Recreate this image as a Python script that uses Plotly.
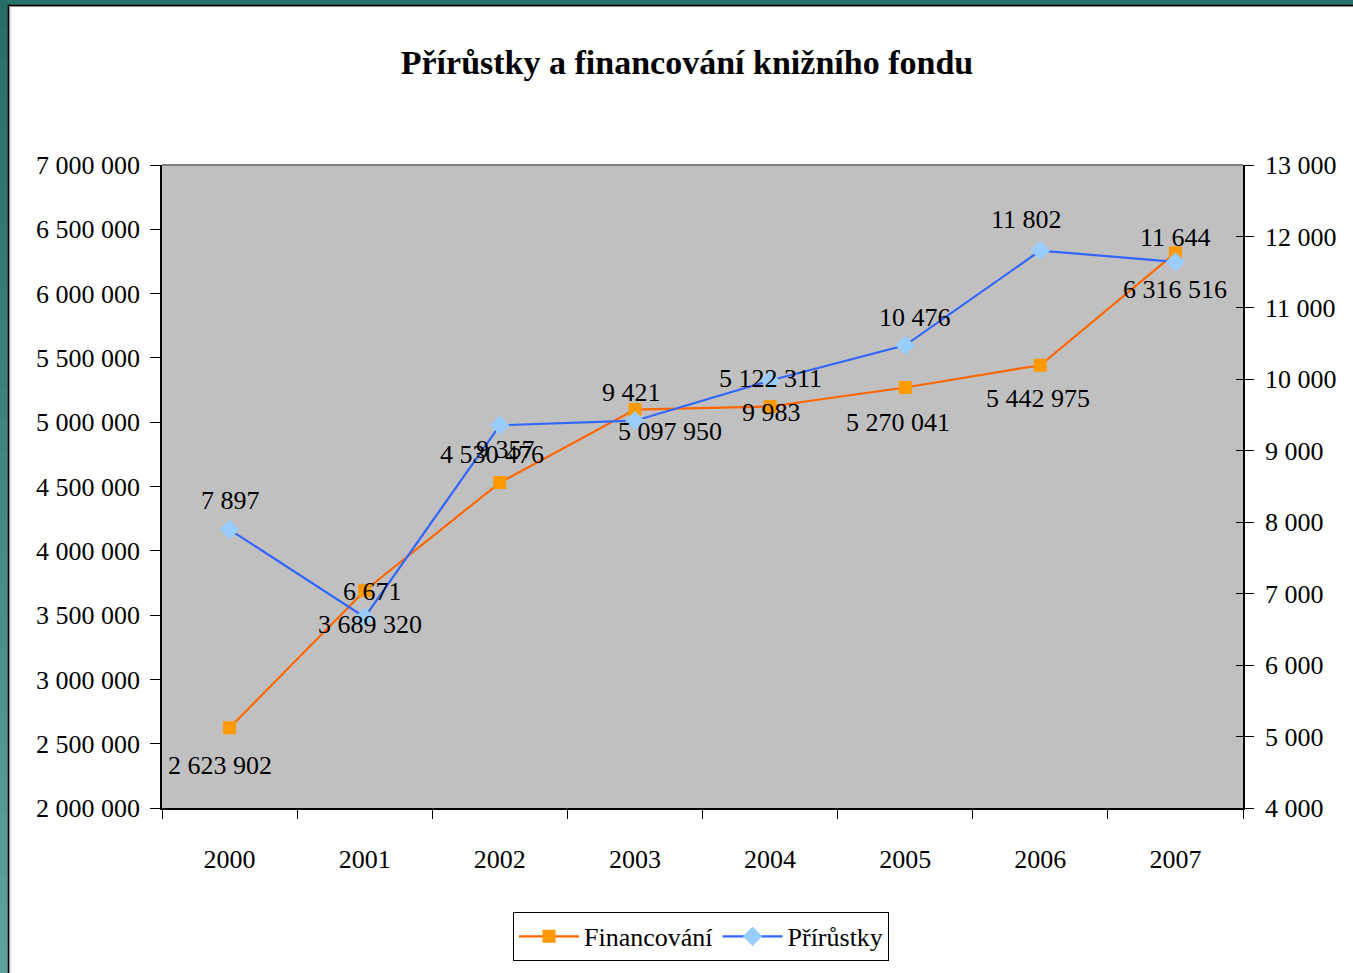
import plotly.graph_objects as go

# ---- data ----
years = ["2000", "2001", "2002", "2003", "2004", "2005", "2006", "2007"]
financovani = [2623902, 3689320, 4530476, 5097950, 5122311, 5270041, 5442975, 6316516]
prirustky = [7897, 6671, 9357, 9421, 9983, 10476, 11802, 11644]
left_ticks = list(range(2000000, 7000001, 500000))
right_ticks = list(range(4000, 13001, 1000))

# label offsets (pixels) - styling
fin_dx = [-10, 5, -8, 35, 0, -7, -2, 0]
fin_dy = [-38, -34, 28, -22, 28, -35, -33, -37]
pri_dx = [1, 8, 6, -3, 1, 10, -14, 0]
pri_dy = [29, 26, -24, 28, -32, 28, 31, 24]

W, H = 1353, 973
L, R, T, B = 162, 110, 165, 162
PW, PH = W - L - R, H - T - B


def px2x(px):
    return (px - L) / PW


def py2y(py):
    return (H - B - py) / PH


FONT = "Liberation Serif"


def fmt(v):
    return f"{v:,}".replace(",", " ")


fig = go.Figure()
fig.add_trace(go.Scatter(
    x=years, y=financovani, name="Financování", mode="lines+markers",
    line=dict(color="#FF6600", width=2.2),
    marker=dict(symbol="square", size=13, color="#FF9900", line=dict(width=0)),
    yaxis="y"))
fig.add_trace(go.Scatter(
    x=years, y=prirustky, name="Přírůstky", mode="lines+markers",
    line=dict(color="#3366FF", width=2.2),
    marker=dict(symbol="diamond", size=15, color="#99CCFF", line=dict(width=0)),
    yaxis="y2"))

ann = []
for i in range(len(years)):
    ann.append(dict(x=i, y=financovani[i], xref="x", yref="y", text=fmt(financovani[i]),
                    showarrow=False, xshift=fin_dx[i], yshift=fin_dy[i],
                    font=dict(family=FONT, size=26, color="#000")))
for i in range(len(years)):
    ann.append(dict(x=i, y=prirustky[i], xref="x", yref="y2", text=fmt(prirustky[i]),
                    showarrow=False, xshift=pri_dx[i], yshift=pri_dy[i],
                    font=dict(family=FONT, size=26, color="#000")))

shapes = []
# teal frame: top strip and left gradient strip
shapes.append(dict(type="rect", xref="paper", yref="paper", x0=px2x(-5), x1=px2x(W + 5),
                   y0=py2y(4), y1=py2y(-5), fillcolor="#2A726E", line=dict(width=0), layer="below"))
n = 30
c0 = (0x27, 0x6C, 0x68)
c1 = (0x5E, 0xA2, 0x9F)
for k in range(n):
    t = k / (n - 1)
    c = tuple(int(round(c0[j] + (c1[j] - c0[j]) * t)) for j in range(3))
    ya = -5 + (H + 10) * k / n
    yb = -5 + (H + 10) * (k + 1) / n
    shapes.append(dict(type="rect", xref="paper", yref="paper", x0=px2x(-5), x1=px2x(8),
                       y0=py2y(yb + 1), y1=py2y(ya), fillcolor="rgb(%d,%d,%d)" % c,
                       line=dict(width=0), layer="below"))
shapes.append(dict(type="line", xref="paper", yref="paper", x0=px2x(8.5), x1=px2x(8.5),
                   y0=py2y(4), y1=py2y(H + 5), line=dict(color="#000", width=1.5)))
shapes.append(dict(type="line", xref="paper", yref="paper", x0=px2x(8), x1=px2x(W + 5),
                   y0=py2y(4.5), y1=py2y(4.5), line=dict(color="#000", width=1.5)))
shapes.append(dict(type="line", xref="paper", yref="paper", x0=px2x(9.8), x1=px2x(9.8),
                   y0=py2y(5.5), y1=py2y(H + 5), line=dict(color="#8A8A8A", width=1)))
shapes.append(dict(type="line", xref="paper", yref="paper", x0=px2x(9.5), x1=px2x(W + 5),
                   y0=py2y(5.8), y1=py2y(5.8), line=dict(color="#8A8A8A", width=1)))
# plot area top border
shapes.append(dict(type="line", xref="paper", yref="paper", x0=0, x1=1, y0=1, y1=1,
                   line=dict(color="#808080", width=2)))

tickfont = dict(family=FONT, size=26, color="#000")

fig.update_layout(
    width=W, height=H,
    margin=dict(l=L, r=R, t=T, b=B),
    paper_bgcolor="#FFFFFF",
    plot_bgcolor="#C0C0C0",
    separators=", ",
    title=dict(text="<b>Přírůstky a financování knižního fondu</b>",
               font=dict(family=FONT, size=34, color="#000"),
               x=687 / W, xref="container", xanchor="center",
               y=1 - 62 / H, yref="container", yanchor="middle"),
    xaxis=dict(type="category", categoryorder="array", categoryarray=years,
               range=[-0.5, 7.5], tickson="boundaries", ticks="outside", ticklen=9,
               tickcolor="#000", tickwidth=1.3, showline=True, linecolor="#000", linewidth=1.5,
               showgrid=False, zeroline=False, tickfont=tickfont, ticklabelstandoff=27),
    yaxis=dict(range=[2000000, 7000000], tickvals=left_ticks, tickformat=",d",
               ticks="outside", ticklen=10, tickcolor="#000", tickwidth=1.3,
               showline=True, linecolor="#000", linewidth=1.5, showgrid=False,
               zeroline=False, tickfont=tickfont, ticklabelstandoff=5),
    yaxis2=dict(range=[4000, 13000], tickvals=right_ticks, tickformat=",d",
                overlaying="y", side="right", anchor="x",
                ticks="outside", ticklen=9, tickcolor="#000", tickwidth=1.3,
                showline=True, linecolor="#000", linewidth=1.5, showgrid=False,
                zeroline=False, tickfont=tickfont, ticklabelstandoff=6),
    yaxis3=dict(range=[4000, 13000], tickvals=right_ticks,
                overlaying="y", side="right", anchor="x",
                ticks="inside", ticklen=7, tickcolor="#000", tickwidth=1.3,
                showline=False, showgrid=False, zeroline=False, showticklabels=False),
    legend=dict(orientation="h", x=px2x(701), xanchor="center", y=py2y(940), yanchor="middle",
                bordercolor="#000", borderwidth=1, bgcolor="#FFFFFF",
                font=dict(family=FONT, size=26, color="#000"), itemwidth=60,
                tracegroupgap=0),
    annotations=ann,
    shapes=shapes,
    showlegend=True,
)

# dummy trace to activate yaxis3 (inside ticks of right axis)
fig.add_trace(go.Scatter(x=years, y=prirustky, yaxis="y3", mode="none",
                         showlegend=False, hoverinfo="skip"))

fig.write_html("out.html", config={"displayModeBar": False},
               post_script="document.body.style.margin='0';document.body.style.overflow='hidden';")
